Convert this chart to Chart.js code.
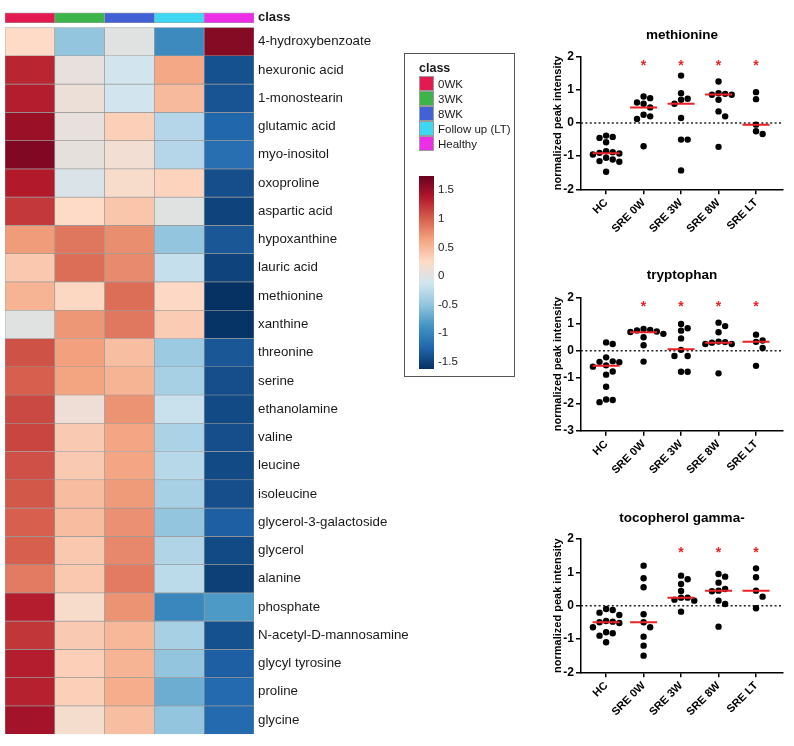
<!DOCTYPE html>
<html>
<head>
<meta charset="utf-8">
<script src="https://cdn.jsdelivr.net/npm/chart.js@4"></script>
<style>
  html, body { margin: 0; padding: 0; background: #fff; overflow: hidden; }
  body { width: 794px; height: 746px; position: relative; font-family: "Liberation Sans", Arial, sans-serif; color: #1a1a1a; }
  canvas, .abs { position: absolute; }
  #legendBox { left: 404px; top: 53px; width: 111px; height: 324px; border: 1px solid #555; box-sizing: border-box; }
  .legTitle { font-weight: bold; font-size: 12.5px; line-height: 14px; }
  .legSwatch { width: 15px; height: 15px; border: 1px solid #9a9a9a; box-sizing: border-box; }
  .legText { font-size: 11.5px; line-height: 14px; }
</style>
</head>
<body>
<canvas id="heat" width="420" height="746" style="left:0;top:0"></canvas>
<div id="legendBox" class="abs"></div>
<div id="legend"></div>
<canvas id="colorbar" width="90" height="215" style="left:419px;top:165px"></canvas>
<canvas id="met" width="324" height="230" style="left:520px;top:20px"></canvas>
<canvas id="trp" width="324" height="230" style="left:520px;top:260px"></canvas>
<canvas id="toc" width="324" height="243" style="left:520px;top:503px"></canvas>
<script>
const FONT = '"Liberation Sans", Arial, sans-serif';

// Heatmap data
const HEAT_COLUMNS = ['0WK', '3WK', '8WK', 'Follow up (LT)', 'Healthy'];
const CLASS_COLORS = ['#e31a4f', '#3bb44a', '#4361d6', '#3ed8f2', '#ec2fe6'];
const METABOLITES = [
  '4-hydroxybenzoate', 'hexuronic acid', '1-monostearin', 'glutamic acid', 'myo-inositol',
  'oxoproline', 'aspartic acid', 'hypoxanthine', 'lauric acid', 'methionine',
  'xanthine', 'threonine', 'serine', 'ethanolamine', 'valine',
  'leucine', 'isoleucine', 'glycerol-3-galactoside', 'glycerol', 'alanine',
  'phosphate', 'N-acetyl-D-mannosamine', 'glycyl tyrosine', 'proline', 'glycine'
];
const HEAT_VALUES = [
  [0.25, -0.5, 0.0, -0.95, 1.6],
  [1.3, 0.06, -0.12, 0.6, -1.4],
  [1.35, 0.1, -0.12, 0.48, -1.38],
  [1.5, 0.06, 0.33, -0.3, -1.25],
  [1.62, 0.05, 0.15, -0.3, -1.18],
  [1.37, -0.05, 0.2, 0.3, -1.42],
  [1.2, 0.25, 0.4, 0.0, -1.5],
  [0.67, 0.88, 0.75, -0.5, -1.36],
  [0.38, 0.93, 0.77, -0.2, -1.5],
  [0.52, 0.27, 0.92, 0.26, -1.62],
  [0.0, 0.7, 0.87, 0.35, -1.6],
  [1.07, 0.65, 0.45, -0.45, -1.36],
  [1.0, 0.63, 0.52, -0.38, -1.42],
  [1.12, 0.12, 0.72, -0.18, -1.45],
  [1.14, 0.37, 0.62, -0.35, -1.42],
  [1.08, 0.37, 0.62, -0.28, -1.45],
  [1.04, 0.46, 0.68, -0.38, -1.42],
  [1.0, 0.46, 0.74, -0.5, -1.3],
  [1.0, 0.38, 0.78, -0.32, -1.45],
  [0.85, 0.38, 0.85, -0.25, -1.52],
  [1.35, 0.2, 0.72, -0.98, -0.83],
  [1.22, 0.37, 0.5, -0.38, -1.4],
  [1.35, 0.33, 0.52, -0.5, -1.3],
  [1.33, 0.33, 0.57, -0.68, -1.22],
  [1.45, 0.18, 0.45, -0.5, -1.22]
];
const SCALE_MIN = -1.63;
const SCALE_MAX = 1.75;
const SCALE_TICKS = [1.5, 1, 0.5, 0, -0.5, -1, -1.5];
const PALETTE = ['#053061', '#2166ac', '#4393c3', '#92c5de', '#d1e5f0',
                 '#fddbc7', '#f4a582', '#d6604d', '#b2182b', '#67001f'];

// Dot plot data
const GROUPS = ['HC', 'SRE 0W', 'SRE 3W', 'SRE 8W', 'SRE LT'];

const MET_VALUES = [
  [-0.38, -0.42, -0.45, -0.58, -0.85, -0.88, -0.9, -0.92, -0.95, -1.05, -1.1, -1.15, -1.17, -1.47],
  [0.8, 0.75, 0.62, 0.58, 0.47, 0.25, 0.2, 0.12, -0.7],
  [1.43, 0.9, 0.73, 0.7, 0.58, 0.15, -0.5, -0.5, -1.43],
  [1.25, 0.9, 0.88, 0.85, 0.85, 0.7, 0.35, 0.2, -0.72],
  [0.93, 0.72, -0.05, -0.25, -0.33]
];
const MET_MEDIANS = [-0.91, 0.47, 0.58, 0.86, -0.05];
const MET_STARS = [false, true, true, true, true];
const MET_STAR_Y = 1.83;

const TRP_VALUES = [
  [0.31, 0.25, -0.25, -0.4, -0.42, -0.43, -0.55, -0.6, -0.78, -0.9, -1.35, -1.83, -1.85, -1.93],
  [0.81, 0.78, 0.76, 0.72, 0.7, 0.63, 0.5, 0.2, -0.41],
  [1.0, 0.84, 0.75, 0.46, 0.03, -0.2, -0.2, -0.79, -0.79],
  [1.05, 0.92, 0.69, 0.34, 0.32, 0.3, 0.25, 0.25, -0.85],
  [0.6, 0.38, 0.33, 0.1, -0.57]
];
const TRP_MEDIANS = [-0.57, 0.69, 0.05, 0.3, 0.33];
const TRP_STARS = [false, true, true, true, true];
const TRP_STAR_Y = 1.78;

const TOC_VALUES = [
  [-0.1, -0.13, -0.21, -0.28, -0.46, -0.48, -0.5, -0.52, -0.65, -0.8, -0.83, -0.9, -1.1],
  [1.2, 0.82, 0.55, -0.26, -0.5, -0.65, -0.93, -1.2, -1.5],
  [0.9, 0.79, 0.65, 0.44, 0.24, 0.24, 0.18, 0.15, -0.18],
  [0.95, 0.87, 0.69, 0.5, 0.45, 0.43, 0.15, 0.05, -0.63],
  [1.12, 0.85, 0.45, 0.27, -0.08]
];
const TOC_MEDIANS = [-0.5, -0.5, 0.24, 0.45, 0.45];
const TOC_STARS = [false, false, true, true, true];
const TOC_STAR_Y = 1.7;

// Colour helpers
function hexToRgb(h) {
  const n = parseInt(h.slice(1), 16);
  return [n >> 16, (n >> 8) & 255, n & 255];
}
function valueColor(v) {
  let t = (v - SCALE_MIN) / (SCALE_MAX - SCALE_MIN);
  t = Math.min(1, Math.max(0, t)) * (PALETTE.length - 1);
  const i = Math.min(Math.floor(t), PALETTE.length - 2);
  const f = t - i;
  const a = hexToRgb(PALETTE[i]), b = hexToRgb(PALETTE[i + 1]);
  const c = a.map((x, k) => Math.round(x + (b[k] - x) * f));
  return `rgb(${c[0]},${c[1]},${c[2]})`;
}

// Heatmap
const CLASS_BAR = [-0.52, -0.17];
const heatSets = HEAT_VALUES.map((row, i) => ({
  data: HEAT_COLUMNS.map(() => [i, i + 1]),
  backgroundColor: row.map(valueColor)
}));
heatSets.unshift({
  data: HEAT_COLUMNS.map(() => CLASS_BAR),
  backgroundColor: CLASS_COLORS
});

new Chart(document.getElementById('heat'), {
  type: 'bar',
  data: { labels: HEAT_COLUMNS, datasets: heatSets },
  options: {
    responsive: false,
    animation: false,
    layout: { padding: { left: 5, top: 5, bottom: 8, right: 0 } },
    plugins: { legend: { display: false }, tooltip: { enabled: false } },
    datasets: {
      bar: {
        grouped: false, barPercentage: 1, categoryPercentage: 1,
        borderColor: '#9a9a9a', borderWidth: 0.65, borderSkipped: false
      }
    },
    scales: {
      x: { display: false },
      y: {
        reverse: true, min: -0.55, max: 25, position: 'right',
        grid: { display: false, drawTicks: false }, border: { display: false },
        afterFit: s => { s.width = 166; },
        afterBuildTicks: s => {
          s.ticks = [{ value: (CLASS_BAR[0] + CLASS_BAR[1]) / 2 }]
            .concat(METABOLITES.map((m, i) => ({ value: i + 0.5 })));
        },
        ticks: {
          autoSkip: false, padding: 4, color: '#1a1a1a',
          font: c => ({ family: FONT, size: c.index === 0 ? 13 : 13.3, weight: c.index === 0 ? 'bold' : 'normal' }),
          callback: (v, i) => i === 0 ? 'class' : METABOLITES[i - 1]
        }
      }
    }
  }
});

// Class legend
const legend = document.getElementById('legend');
legend.innerHTML = '<div class="abs legTitle" style="left:419px;top:61px">class</div>' +
  HEAT_COLUMNS.map((name, i) => {
    const top = 76 + i * 15.1;
    return `<div class="abs legSwatch" style="left:419px;top:${top}px;background:${CLASS_COLORS[i]}"></div>` +
      `<div class="abs legText" style="left:438px;top:${top + 0.5}px">${name}</div>`;
  }).join('');

// Colour key
new Chart(document.getElementById('colorbar'), {
  type: 'bar',
  data: {
    labels: ['key'],
    datasets: [{
      data: [[SCALE_MIN, SCALE_MAX]],
      barPercentage: 1, categoryPercentage: 1, borderWidth: 0,
      backgroundColor: c => {
        const chart = c.chart;
        if (!chart.chartArea) return PALETTE[5];
        const y = chart.scales.y;
        const g = chart.ctx.createLinearGradient(0, y.getPixelForValue(SCALE_MIN), 0, y.getPixelForValue(SCALE_MAX));
        PALETTE.forEach((col, i) => g.addColorStop(i / (PALETTE.length - 1), col));
        return g;
      }
    }]
  },
  options: {
    responsive: false,
    animation: false,
    layout: { padding: { top: 7, bottom: 5, left: 0, right: 0 } },
    plugins: { legend: { display: false }, tooltip: { enabled: false } },
    scales: {
      x: { display: false },
      y: {
        min: SCALE_MIN, max: SCALE_MAX, position: 'right',
        grid: { display: false, drawTicks: false }, border: { display: false },
        afterFit: s => { s.width = 75; },
        afterBuildTicks: s => { s.ticks = SCALE_TICKS.map(v => ({ value: v })); },
        ticks: { padding: 4, color: '#222', font: { family: FONT, size: 11.5 }, callback: v => String(v) }
      }
    }
  }
});

// Dot plots
const X_MIN = -0.67, X_MAX = 4.72;
const MED_HALF = 0.36;
const DOT_R = 3.2;
const RED = '#ea2228';

// beeswarm offsets (in x units) so that dots do not overlap
function swarm(values, yppu, xppu) {
  const D = 6.6;
  const placed = [];
  const off = new Array(values.length);
  const order = values.map((v, i) => i).sort((a, b) => values[b] - values[a]);
  for (const i of order) {
    const py = values[i] * yppu;
    for (let k = 0; k < 40; k++) {
      const cand = k === 0 ? 0 : (k % 2 ? 1 : -1) * Math.ceil(k / 2) * D;
      if (placed.every(p => Math.hypot(p.x - cand, p.y - py) >= D - 0.01)) {
        placed.push({ x: cand, y: py });
        off[i] = cand / xppu;
        break;
      }
    }
  }
  return off;
}

const dotExtras = {
  id: 'dotExtras',
  beforeDatasetsDraw(chart) {
    const { ctx, chartArea: a, scales: { y } } = chart;
    const y0 = y.getPixelForValue(0);
    ctx.save();
    ctx.setLineDash([2, 2.4]);
    ctx.lineWidth = 1.5;
    ctx.strokeStyle = '#222';
    ctx.beginPath();
    ctx.moveTo(a.left, y0);
    ctx.lineTo(a.right, y0);
    ctx.stroke();
    ctx.restore();
  },
  afterDatasetsDraw(chart, args, opts) {
    const { ctx, scales: { x, y } } = chart;
    ctx.save();
    ctx.fillStyle = RED;
    ctx.font = 'bold 14px ' + FONT;
    ctx.textAlign = 'center';
    ctx.textBaseline = 'alphabetic';
    opts.stars.forEach((s, g) => {
      if (!s) return;
      ctx.fillText('*', x.getPixelForValue(g), y.getPixelForValue(opts.starY) + 0.57 * 14);
    });
    ctx.restore();
  }
};

function dotPlot(id, title, values, medians, stars, starY, yMin, yMax, frame) {
  const canvas = document.getElementById(id);
  const H = canvas.height, W = canvas.width;
  const plotLeft = 61, plotRight = 263;
  const yppu = (frame.plotBottom - frame.plotTop) / (yMax - yMin);
  const xppu = (plotRight - plotLeft) / (X_MAX - X_MIN);
  const points = [];
  values.forEach((vals, g) => {
    const offs = swarm(vals, yppu, xppu);
    vals.forEach((v, k) => points.push({ x: g + offs[k], y: v }));
  });
  const datasets = medians.map((m, g) => ({
    type: 'scatter', showLine: true, order: 0,
    data: [{ x: g - MED_HALF, y: m }, { x: g + MED_HALF, y: m }],
    borderColor: RED, borderWidth: 2, pointRadius: 0
  }));
  datasets.push({
    type: 'scatter', order: 1, data: points,
    pointRadius: DOT_R, backgroundColor: '#000', borderWidth: 0
  });
  const titleSize = 13.5, titleLH = titleSize * 1.2;
  const axisFont = { family: FONT, size: 11, weight: 'bold' };
  const tickFont = { family: FONT, size: 12, weight: 'bold' };

  new Chart(canvas, {
    type: 'scatter',
    data: { datasets },
    plugins: [dotExtras],
    options: {
      responsive: false,
      animation: false,
      layout: { padding: 0 },
      plugins: {
        legend: { display: false },
        tooltip: { enabled: false },
        title: {
          display: true, text: title, color: '#000',
          font: { family: FONT, size: titleSize, weight: 'bold' },
          padding: { top: frame.titleMid - titleLH / 2, bottom: frame.plotTop - frame.titleMid - titleLH / 2 }
        },
        dotExtras: { stars, starY }
      },
      scales: {
        x: {
          type: 'linear', min: X_MIN, max: X_MAX,
          afterFit: s => { s.height = H - frame.plotBottom; },
          afterBuildTicks: s => { s.ticks = GROUPS.map((gname, i) => ({ value: i })); },
          grid: { drawOnChartArea: false, tickLength: 5, color: '#000', lineWidth: 1.5 },
          border: { color: '#000', width: 1.5 },
          ticks: {
            autoSkip: false, minRotation: 45, maxRotation: 45, padding: 2,
            color: '#000', font: axisFont,
            callback: v => GROUPS[v]
          }
        },
        y: {
          min: yMin, max: yMax,
          afterFit: s => { s.width = plotLeft; },
          grid: { drawOnChartArea: false, tickLength: 5, color: '#000', lineWidth: 1.5 },
          border: { color: '#000', width: 1.5 },
          ticks: { stepSize: 1, padding: 2, color: '#000', font: tickFont },
          title: {
            display: true, text: 'normalized peak intensity', color: '#000',
            font: axisFont, padding: { top: 31, bottom: 0 }
          }
        },
        yR: {
          position: 'right', display: true,
          afterFit: s => { s.width = W - plotRight; },
          grid: { display: false, drawTicks: false }, border: { display: false },
          ticks: { display: false }
        }
      }
    }
  });
}

dotPlot('met', 'methionine', MET_VALUES, MET_MEDIANS, MET_STARS, MET_STAR_Y, -2, 2,
  { titleMid: 15, plotTop: 36.7, plotBottom: 169.3 });
dotPlot('trp', 'tryptophan', TRP_VALUES, TRP_MEDIANS, TRP_STARS, TRP_STAR_Y, -3, 2,
  { titleMid: 15, plotTop: 37.3, plotBottom: 170.7 });
dotPlot('toc', 'tocopherol gamma-', TOC_VALUES, TOC_MEDIANS, TOC_STARS, TOC_STAR_Y, -2, 2,
  { titleMid: 15, plotTop: 36, plotBottom: 169.3 });
</script>
</body>
</html>
